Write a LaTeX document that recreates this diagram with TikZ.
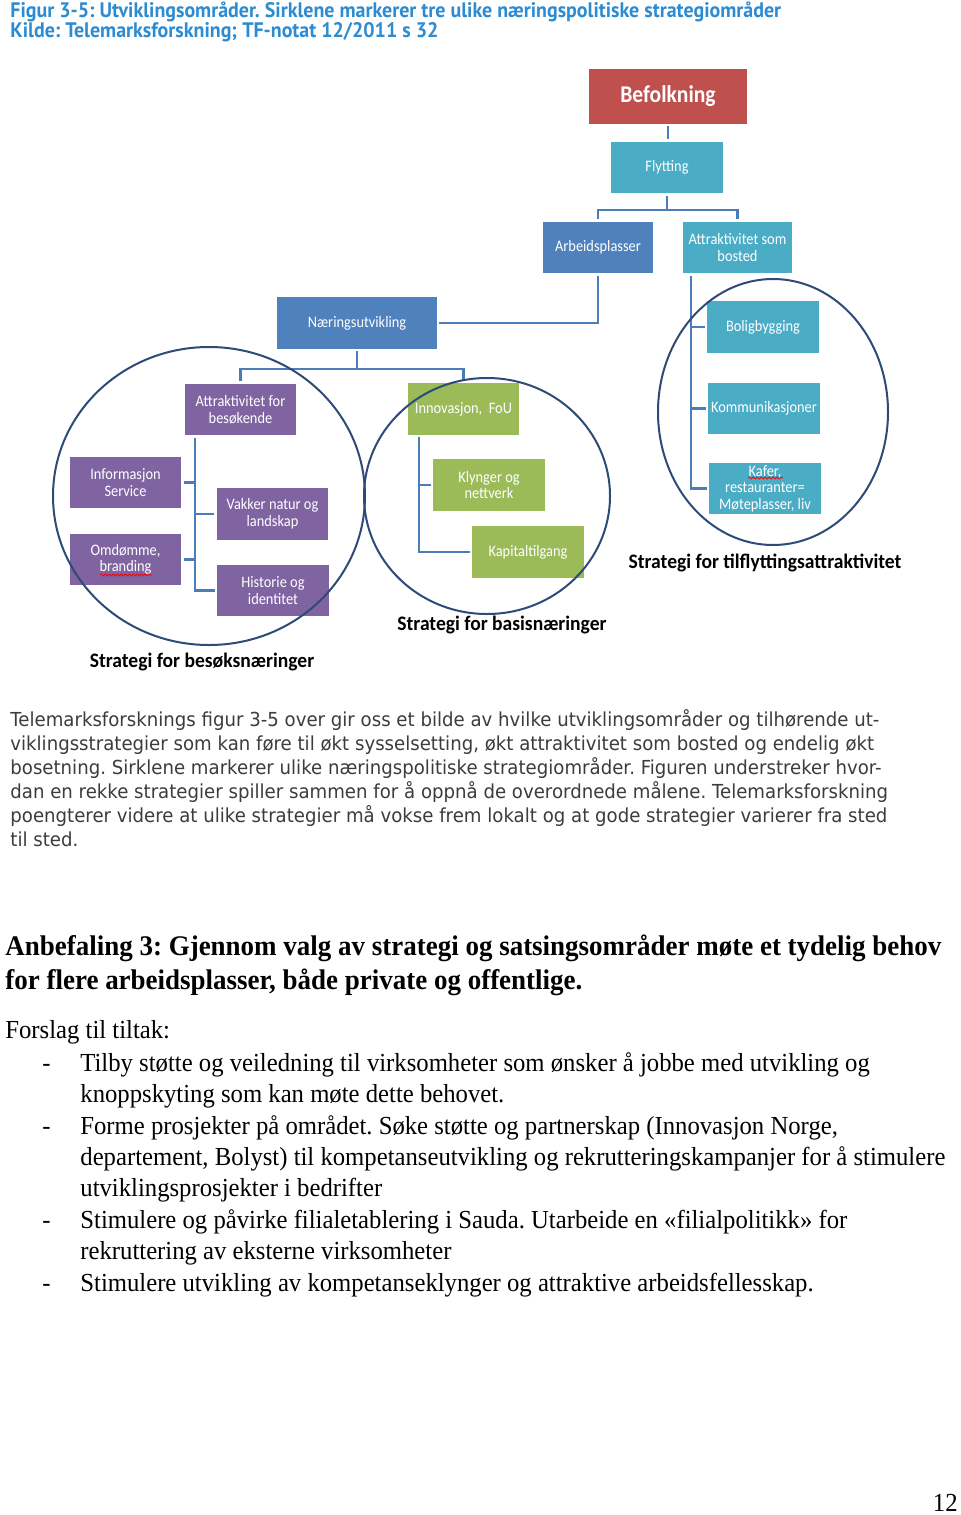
\documentclass[tikz,border=0pt]{standalone}
\usepackage{fontspec}
\usetikzlibrary{shadows,decorations.pathmorphing}
\setmainfont{Liberation Serif}
\newfontfamily\calibf[FakeStretch=0.9]{Carlito}
\newfontfamily\calibL[FakeStretch=0.95]{Carlito}
\newfontfamily\dejaf[FakeStretch=0.94]{DejaVu Sans}
\newfontfamily\ptf[FakeStretch=0.95]{PT Sans}
\newfontfamily\serf[FakeStretch=0.95]{Liberation Serif}
\newfontfamily\serb[FakeStretch=0.95]{Liberation Serif}
\newcommand\boxfont{\calibf\fontsize{8}{8.3}\selectfont}
\newcommand\beffont{\calibf\bfseries\fontsize{12}{13}\selectfont}
\newcommand\labfont{\calibL\bfseries\fontsize{10.3}{11}\selectfont}
\newcommand\capfont{\ptf\bfseries\fontsize{10.5}{11}\selectfont}
\newcommand\parfont{\dejaf\fontsize{9.65}{11}\selectfont}
\newcommand\headfont{\serf\bfseries\fontsize{14.2}{16}\selectfont}
\newcommand\docfont{\serb\fontsize{13}{14}\selectfont}
\frenchspacing
\definecolor{cred}{HTML}{C0504D}
\definecolor{caqua}{HTML}{4BACC6}
\definecolor{cblue}{HTML}{4F81BD}
\definecolor{cpurp}{HTML}{8064A2}
\definecolor{cgreen}{HTML}{9BBB59}
\definecolor{connc}{HTML}{4A7EBB}
\definecolor{ringc}{HTML}{2E4A78}
\definecolor{capc}{HTML}{2C8BD1}
\definecolor{parac}{HTML}{3C3C3C}
\tikzset{
  box/.style={rectangle, draw=white, line width=1.2pt, text=white, align=center,
    inner sep=1pt, font=\boxfont, minimum width=57pt, minimum height=27pt,
    drop shadow={shadow xshift=0.7pt, shadow yshift=-0.7pt, opacity=0.2, fill=black}},
  conn/.style={draw=connc, line width=1.3pt},
  ring/.style={draw=ringc, line width=1pt},
  lab/.style={font=\labfont, text=black, inner sep=0pt},
  captxt/.style={font=\capfont, text=capc, anchor=base west, inner sep=0pt},
  para/.style={font=\parfont, text=parac, anchor=base west, inner sep=0pt},
  doc/.style={font=\docfont, text=black, anchor=base west, inner sep=0pt},
  wavy/.style={draw=red, line width=0.4pt, decorate, decoration={snake, amplitude=0.5pt, segment length=2pt}}
}
\begin{document}
\frenchspacing
\begin{tikzpicture}[x=0.5pt, y=-0.5pt]
\fill[white] (0,0) rectangle (960,1515);
\useasboundingbox (0,0) rectangle (960,1515);

% caption
\node[captxt] (c1) at (10,18) {Figur 3-5: Utviklingsområder. Sirklene markerer tre ulike næringspolitiske strategiområder};
\node[captxt] (c2) at (10,38) {Kilde: Telemarksforskning; TF-notat 12/2011 s 32};

% boxes
\node[box, fill=cred, font=\beffont, minimum width=80pt, minimum height=28.5pt] (bef) at (668,96.5) {Befolkning};
\node[box, fill=caqua] (fly) at (667,167.5) {Flytting};
\node[box, fill=cblue, minimum width=56pt] (arb) at (598,247.5) {Arbeidsplasser};
\node[box, fill=caqua, minimum width=56pt] (att) at (737.5,247.5) {Attraktivitet som\\bosted};
\node[box, fill=cblue, minimum width=81pt] (nar) at (357,323) {Næringsutvikling};

\node[box, fill=cpurp] (atb) at (240.5,409.5) {Attraktivitet for\\besøkende};
\node[box, fill=cpurp] (inf) at (125.5,482.5) {Informasjon\\Service};
\node[box, fill=cpurp] (vak) at (272.5,514) {Vakker natur og\\landskap};
\node[box, fill=cpurp] (omd) at (125.5,559.5) {Omdømme,\\branding};
\node[box, fill=cpurp] (his) at (273,590.5) {Historie og\\identitet};

\node[box, fill=cgreen] (inn) at (463.5,409) {Innovasjon,\ \ FoU};
\node[box, fill=cgreen] (kly) at (489,485) {Klynger og\\nettverk};
\node[box, fill=cgreen] (kap) at (528,552) {Kapitaltilgang};

\node[box, fill=caqua] (bol) at (763,327) {Boligbygging};
\node[box, fill=caqua] (kom) at (764,408.5) {Kommunikasjoner};
\node[box, fill=caqua] (kaf) at (765,488.5) {Kafer,\\restauranter=\\Møteplasser, liv};

% connectors
\coordinate (bA) at (667,210);
\draw[conn] (bef.south) -- (bef.south |- fly.north);
\draw[conn] (fly.south) -- (fly.south |- bA);
\draw[conn] (arb.north) -- (arb.north |- bA) -- (att.north |- bA) -- (att.north);
\draw[conn] (arb.south) |- (nar.east);
\coordinate (bB) at (358,369);
\draw[conn] (nar.south) -- (nar.south |- bB);
\draw[conn] (atb.north) -- (atb.north |- bB) -- (inn.north |- bB) -- (inn.north);

\path (atb.south) ++(-45.5,0) coordinate (tP);
\draw[conn] (tP) |- (his.west);
\draw[conn] (inf.east) -- (inf.east -| tP);
\draw[conn] (vak.west) -- (vak.west -| tP);
\draw[conn] (omd.east) -- (omd.east -| tP);

\path (inn.south) ++(-44.5,0) coordinate (tG);
\draw[conn] (tG) |- (kap.west);
\draw[conn] (kly.west) -- (kly.west -| tG);

\path (att.south) ++(-46.5,0) coordinate (tR);
\draw[conn] (tR) |- (kaf.west);
\draw[conn] (bol.west) -- (bol.west -| tR);
\draw[conn] (kom.west) -- (kom.west -| tR);

% spell-check underlines
\draw[wavy] (100,575) -- (152,575);
\draw[wavy] (748,478) -- (783,478);

% strategy circles
\draw[ring] (209,496) ellipse [x radius=156, y radius=149];
\draw[ring] (487,496) ellipse [x radius=123, y radius=118];
\draw[ring] (773,412) ellipse [x radius=115, y radius=133];

\node[lab] (l1) at (202,662) {Strategi for besøksnæringer};
\node[lab] (l2) at (502,625) {Strategi for basisnæringer};
\node[lab] (l3) at (765,563) {Strategi for tilflyttingsattraktivitet};

% paragraph
\node[para] (p1) at (10,726) {Telemarksforsknings figur 3-5 over gir oss et bilde av hvilke utviklingsområder og tilhørende ut-};
\node[para] (p2) at (10,750) {viklingsstrategier som kan føre til økt sysselsetting, økt attraktivitet som bosted og endelig økt};
\node[para] (p3) at (10,774) {bosetning. Sirklene markerer ulike næringspolitiske strategiområder. Figuren understreker hvor-};
\node[para] (p4) at (10,798) {dan en rekke strategier spiller sammen for å oppnå de overordnede målene. Telemarksforskning};
\node[para] (p5) at (10,822) {poengterer videre at ulike strategier må vokse frem lokalt og at gode strategier varierer fra sted};
\node[para] (p6) at (10,846) {til sted.};

% recommendation
\node[doc, font=\headfont] (h1) at (5,955) {Anbefaling 3: Gjennom valg av strategi og satsingsområder møte et tydelig behov};
\node[doc, font=\headfont] (h2) at (5,989) {for flere arbeidsplasser, både private og offentlige.};
\node[doc] (f0) at (5,1038) {Forslag til tiltak:};

\node[doc] (d1) at (42,1071) {-};
\node[doc] (b1) at (80,1071) {Tilby støtte og veiledning til virksomheter som ønsker å jobbe med utvikling og};
\node[doc] (b1b) at (80,1102) {knoppskyting som kan møte dette behovet.};
\node[doc] (d2) at (42,1134) {-};
\node[doc] (b2) at (80,1134) {Forme prosjekter på området. Søke støtte og partnerskap (Innovasjon Norge,};
\node[doc] (b2b) at (80,1165) {departement, Bolyst) til kompetanseutvikling og rekrutteringskampanjer for å stimulere};
\node[doc] (b2c) at (80,1196) {utviklingsprosjekter i bedrifter};
\node[doc] (d3) at (42,1228) {-};
\node[doc] (b3) at (80,1228) {Stimulere og påvirke filialetablering i Sauda. Utarbeide en «filialpolitikk» for};
\node[doc] (b3b) at (80,1259) {rekruttering av eksterne virksomheter};
\node[doc] (d4) at (42,1291) {-};
\node[doc] (b4) at (80,1291) {Stimulere utvikling av kompetanseklynger og attraktive arbeidsfellesskap.};

\node[doc, anchor=base east] (pg) at (958,1511) {12};
\end{tikzpicture}
\end{document}
